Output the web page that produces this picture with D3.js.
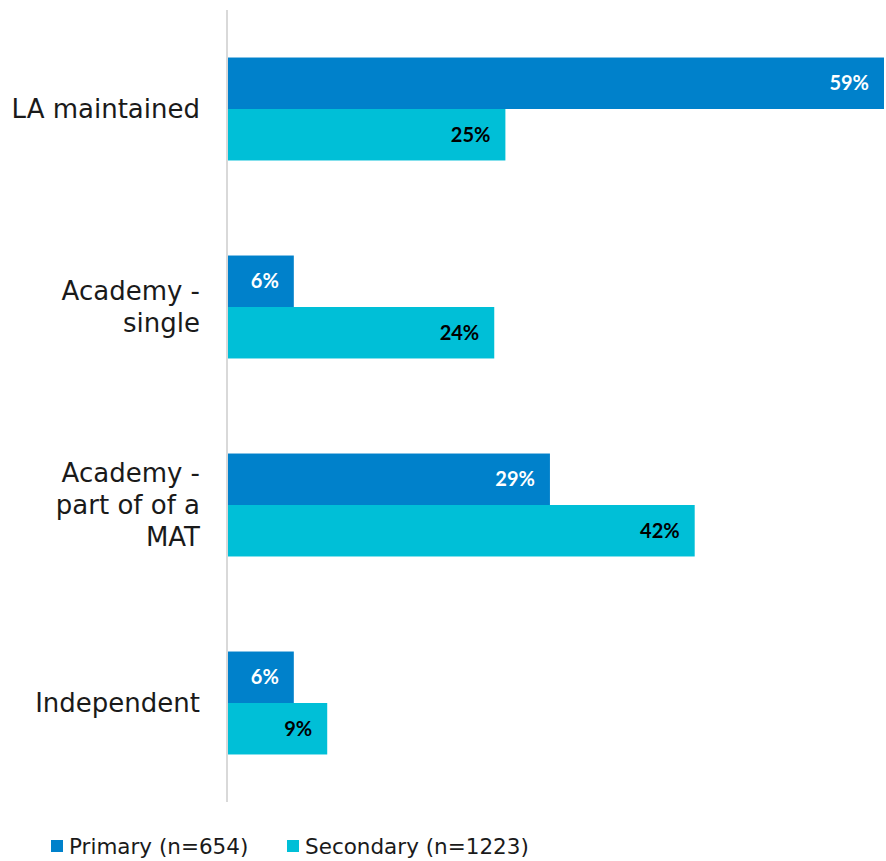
<!DOCTYPE html>
<html>
<head>
<meta charset="utf-8">
<script src="https://cdn.jsdelivr.net/npm/d3@7"></script>
<style>
  html, body { margin: 0; padding: 0; background: #fff; }
  svg { display: block; font-family: "Century Gothic", "DejaVu Sans", sans-serif; }
  .val { font-family: "Century Gothic", "Lato", sans-serif; }
</style>
</head>
<body>
<svg id="chart" width="886" height="861"></svg>
<script>
// School types and their share of respondents, by phase
const categories = ["LA maintained", "Academy - single", "Academy - part of of a MAT", "Independent"];
const categoryLines = [["LA maintained"], ["Academy -", "single"], ["Academy -", "part of of a", "MAT"], ["Independent"]];
const seriesNames = ["Primary (n=654)", "Secondary (n=1223)"];
const primary = [59, 6, 29, 6];
const secondary = [25, 24, 42, 9];
const seriesColors = ["#0081cb", "#00bfd7"];
const labelColors = ["#ffffff", "#000000"];

const svg = d3.select("#chart");
const margin = { left: 227, top: 10, bottom: 802 };

const x = d3.scaleLinear().domain([0, 59]).range([margin.left, 884]);
const y0 = d3.scaleBand().domain(categories).range([margin.top, margin.bottom]).paddingInner(0.48).paddingOuter(0.24);
const y1 = d3.scaleBand().domain([0, 1]).range([0, y0.bandwidth()]);

const rows = categories.map((c, i) => ({ cat: c, vals: [primary[i], secondary[i]] }));

const groups = svg.selectAll("g.cat").data(rows).join("g")
  .attr("class", "cat")
  .attr("transform", d => `translate(0,${y0(d.cat)})`);

groups.selectAll("rect").data(d => d.vals.map((v, s) => ({ v, s }))).join("rect")
  .attr("x", x(0))
  .attr("y", d => y1(d.s))
  .attr("width", d => x(d.v) - x(0))
  .attr("height", y1.bandwidth())
  .attr("fill", d => seriesColors[d.s]);

groups.selectAll("text.val").data(d => d.vals.map((v, s) => ({ v, s }))).join("text")
  .attr("class", "val")
  .attr("x", d => x(d.v) - 15)
  .attr("y", d => y1(d.s) + y1.bandwidth() / 2)
  .attr("dy", "0.35em")
  .attr("text-anchor", "end")
  .attr("font-size", 20)
  .attr("font-weight", "bold")
  .attr("fill", d => labelColors[d.s])
  .text(d => d.v + "%");

// vertical category axis line
svg.append("line")
  .attr("x1", x(0)).attr("x2", x(0))
  .attr("y1", margin.top).attr("y2", margin.bottom)
  .attr("stroke", "#d9d9d9").attr("stroke-width", 2);

// category labels, wrapped
const lineH = 32;
svg.selectAll("text.cat").data(categories).join("text")
  .attr("class", "cat")
  .attr("text-anchor", "end")
  .attr("font-size", 26)
  .attr("fill", "#1a1a1a")
  .each(function(c, i) {
    const lines = categoryLines[i];
    const cy = y0(c) + y0.bandwidth() / 2;
    const start = cy - (lines.length - 1) * lineH / 2;
    d3.select(this).selectAll("tspan").data(lines).join("tspan")
      .attr("x", 200)
      .attr("y", (l, k) => start + k * lineH)
      .attr("dy", "0.35em")
      .text(l => l);
  });

// legend
const legendX = [51, 287];
const legend = svg.selectAll("g.leg").data(seriesNames).join("g")
  .attr("class", "leg")
  .attr("transform", (d, i) => `translate(${legendX[i]},846)`);
legend.append("rect").attr("x", 0).attr("y", -6).attr("width", 12).attr("height", 12)
  .attr("fill", (d, i) => seriesColors[i]);
legend.append("text").attr("x", 18).attr("dy", "0.35em")
  .attr("font-size", 21.5).attr("fill", "#1a1a1a").text(d => d);
</script>
</body>
</html>
